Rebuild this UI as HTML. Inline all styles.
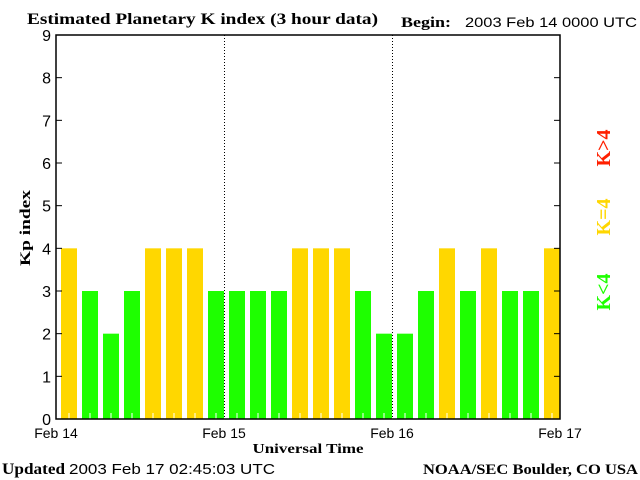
<!DOCTYPE html>
<html><head><meta charset="utf-8"><style>
body{margin:0;background:#fff;width:640px;height:480px;overflow:hidden}
svg{display:block}
.s{font-family:"Liberation Serif",serif;font-weight:bold}
.a{font-family:"Liberation Sans",sans-serif}
</style></head><body>
<svg id="c" width="640" height="480">
<text class="s" x="27" y="24" font-size="16" textLength="351" lengthAdjust="spacingAndGlyphs">Estimated Planetary K index (3 hour data)</text>
<text class="s" x="401" y="27" font-size="15" textLength="50" lengthAdjust="spacingAndGlyphs">Begin:</text>
<text class="a" x="465" y="27" font-size="14" textLength="172" lengthAdjust="spacingAndGlyphs">2003 Feb 14 0000 UTC</text>
<text class="s" x="30" y="228" font-size="15" transform="rotate(-90 30 228)" text-anchor="middle" textLength="76" lengthAdjust="spacingAndGlyphs">Kp index</text>
<text class="s" x="308" y="453" font-size="14" text-anchor="middle" textLength="111" lengthAdjust="spacingAndGlyphs">Universal Time</text>
<text class="s" x="2" y="474" font-size="16" textLength="63" lengthAdjust="spacingAndGlyphs">Updated</text>
<text class="a" x="69" y="474" font-size="15" textLength="206" lengthAdjust="spacingAndGlyphs">2003 Feb 17 02:45:03 UTC</text>
<text class="s" x="423" y="474" font-size="15" textLength="215" lengthAdjust="spacingAndGlyphs">NOAA/SEC Boulder, CO USA</text>
<text class="s" x="610" y="148" font-size="20" fill="#ff2000" transform="rotate(-90 610 148)" text-anchor="middle">K&gt;4</text>
<text class="s" x="610" y="217" font-size="20" fill="#ffd700" transform="rotate(-90 610 217)" text-anchor="middle">K=4</text>
<text class="s" x="610" y="292" font-size="20" fill="#1eff00" transform="rotate(-90 610 292)" text-anchor="middle">K&lt;4</text>
<g id="plot"></g>
</svg>
<script>
const kpValues=[4,3,2,3,4,4,4,3, 3,3,3,4,4,4,3,2, 2,3,4,3,4,3,3,4];
const yTicks=[0,1,2,3,4,5,6,7,8,9];
const dayLabels=["Feb 14","Feb 15","Feb 16","Feb 17"];
const L=56,R=560,T=35,B=419;
const slot=(R-L)/kpValues.length;
const x=i=>L+i*slot;
const y=v=>B-(v/9)*(B-T);
const NS="http://www.w3.org/2000/svg";
const g=document.getElementById('plot');
function mk(t,a){const e=document.createElementNS(NS,t);for(const k in a)e.setAttribute(k,a[k]);g.appendChild(e);return e;}
kpValues.forEach((v,i)=>{
 const col=v>4?"#ff2000":(v==4?"#ffd700":"#1eff00");
 const r=mk('rect',{x:x(i)+5,y:y(v),width:slot-5,height:B-y(v),fill:col});
 
 
 const cx=x(i)+5+(slot-5)/2;
 const t=mk('line',{x1:cx,x2:cx,y1:B-6,y2:B,stroke:"#fff","stroke-width":1});
 
 
});
[1,2].forEach(d=>{
 const xx=x(d*8)+0.5;
 const l=mk('line',{x1:xx,x2:xx,y1:T,y2:B,stroke:"#000","stroke-dasharray":"1,2"});
 
 
});
const fr=mk('rect',{x:L,y:T,width:R-L,height:B-T,fill:"none",stroke:"#000","stroke-width":1.5});


yTicks.forEach(v=>{
 const yy=y(v);
 mk('line',{x1:L,x2:L+6,y1:yy,y2:yy,stroke:"#000"});
 mk('line',{x1:R-6,x2:R,y1:yy,y2:yy,stroke:"#000"});
 const t=mk('text',{x:L-5,y:yy+6,"text-anchor":"end","font-size":"16","font-family":"Liberation Sans, sans-serif"});
 t.textContent=v;
 
 
});
dayLabels.forEach((s,d)=>{
 const t=mk('text',{x:x(d*8),y:438,"text-anchor":"middle","font-size":"14","font-family":"Liberation Sans, sans-serif"});
 t.textContent=s;
 
 
});
</script>
</body></html>
